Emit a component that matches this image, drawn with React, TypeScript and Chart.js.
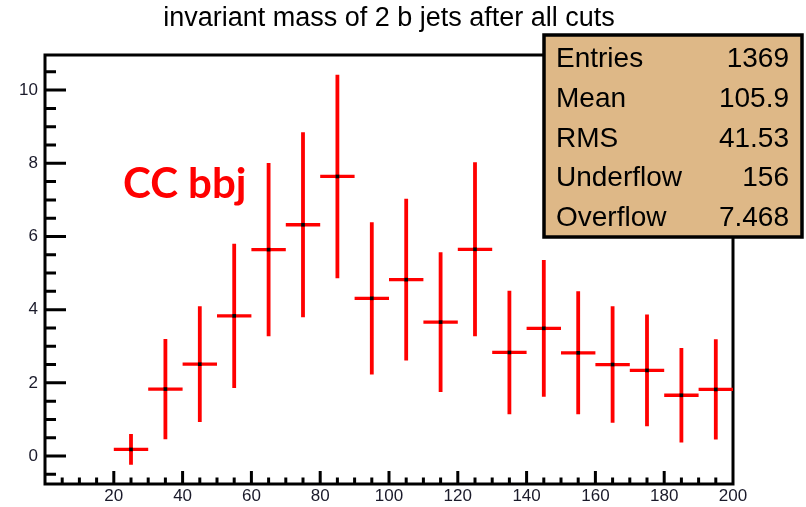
import React, { useEffect, useRef } from 'react';
import { Chart, registerables } from 'chart.js';

Chart.register(...registerables);

// ---- data ----
const binCenters = [25, 35, 45, 55, 65, 75, 85, 95, 105, 115, 125, 135, 145, 155, 165, 175, 185, 195];
const binWidth = 10;
const binContents = [0.18, 1.83, 2.51, 3.83, 5.64, 6.32, 7.64, 4.31, 4.82, 3.66, 5.65, 2.83, 3.49, 2.82, 2.5, 2.34, 1.66, 1.82];
const binErrors = [0.42, 1.37, 1.58, 1.97, 2.37, 2.53, 2.78, 2.08, 2.21, 1.91, 2.38, 1.69, 1.87, 1.68, 1.59, 1.53, 1.29, 1.37];
const xTickValues = [20, 40, 60, 80, 100, 120, 140, 160, 180, 200];
const yTickValues = [0, 2, 4, 6, 8, 10];
const statLabels = ['Entries', 'Mean', 'RMS', 'Underflow', 'Overflow'];
const statValues = ['1369', '105.9', '41.53', '156', '7.468'];
const titleText = 'invariant mass of 2 b jets after all cuts';
const annotationText = 'CC bbj';

const X_MIN = 0;
const X_MAX = 200;
const Y_MIN = -0.765;
const Y_MAX = 10.96;

const FONT = '"Liberation Sans", Arial, Helvetica, sans-serif';

const rootFramePlugin = {
  id: 'rootFrame',
  beforeDatasetsDraw(chart: any) {
    const { ctx, chartArea, scales } = chart;
    const { left, right, top, bottom } = chartArea;
    const xs = scales.x;
    const ys = scales.y;
    ctx.save();
    ctx.strokeStyle = '#000';
    ctx.lineWidth = 3;
    ctx.beginPath();
    for (let k = 0; k <= 40; k++) {
      const v = k * 5;
      const px = xs.getPixelForValue(v);
      if (px <= left + 1 || px >= right - 1) continue;
      const len = k % 4 === 0 ? 13 : 6.5;
      ctx.moveTo(px, bottom);
      ctx.lineTo(px, bottom - len);
    }
    for (let k = -1; k <= 21; k++) {
      const v = k * 0.5;
      const py = ys.getPixelForValue(v);
      if (py <= top + 1 || py >= bottom - 1) continue;
      const len = k % 4 === 0 ? 21 : 11;
      ctx.moveTo(left, py);
      ctx.lineTo(left + len, py);
    }
    ctx.stroke();
    ctx.strokeRect(left, top, right - left, bottom - top);
    ctx.restore();
  },
};

const overlayPlugin = {
  id: 'rootOverlay',
  afterDraw(chart: any) {
    const { ctx } = chart;
    ctx.save();
    // annotation
    ctx.fillStyle = '#ff0000';
    ctx.font = `bold 42px Lato, "Open Sans", sans-serif`;
    ctx.textAlign = 'left';
    ctx.textBaseline = 'alphabetic';
    ctx.fillText(annotationText, 123, 198);

    // stats box
    const bx = 544, by = 35, bw = 258, bh = 202;
    ctx.fillStyle = '#DEB887';
    ctx.fillRect(bx, by, bw, bh);
    ctx.strokeStyle = '#000';
    ctx.lineWidth = 3.5;
    ctx.strokeRect(bx, by, bw, bh);
    ctx.fillStyle = '#000';
    ctx.font = `28px ${FONT}`;
    statLabels.forEach((lab, i) => {
      const base = 67 + i * 39.8;
      ctx.textAlign = 'left';
      ctx.fillText(lab, 556, base);
      ctx.textAlign = 'right';
      ctx.fillText(statValues[i], 789, base);
    });
    ctx.restore();
  },
};

export default function App() {
  const canvasRef = useRef<HTMLCanvasElement | null>(null);

  useEffect(() => {
    if (!canvasRef.current) return;
    const horiz: any[] = [];
    const vert: any[] = [];
    const centers: any[] = [];
    binCenters.forEach((c, i) => {
      const v = binContents[i];
      const e = binErrors[i];
      horiz.push({ x: c - binWidth / 2, y: v }, { x: c + binWidth / 2, y: v }, { x: c + binWidth / 2, y: null });
      vert.push({ x: c, y: v - e }, { x: c, y: v + e }, { x: c, y: null });
      centers.push({ x: c, y: v });
    });

    const chart = new Chart(canvasRef.current, {
      type: 'scatter',
      data: {
        datasets: [
          {
            data: centers,
            showLine: false,
            order: 0,
            pointStyle: 'rect',
            pointRadius: 2.6,
            pointBorderWidth: 0,
            pointBackgroundColor: '#000',
            backgroundColor: '#000',
            borderColor: '#000',
          } as any,
          {
            data: horiz,
            showLine: true,
            order: 1,
            spanGaps: false,
            borderColor: '#ff0000',
            borderWidth: 3.3,
            pointRadius: 0,
            borderCapStyle: 'butt',
          } as any,
          {
            data: vert,
            showLine: true,
            order: 2,
            spanGaps: false,
            borderColor: '#ff0000',
            borderWidth: 3.8,
            pointRadius: 0,
            borderCapStyle: 'butt',
          } as any,
        ],
      },
      options: {
        responsive: false,
        animation: false,
        layout: { padding: { left: 0, right: 73, top: 0, bottom: 0 } },
        plugins: {
          legend: { display: false },
          tooltip: { enabled: false },
          title: {
            display: true,
            text: titleText,
            fullSize: false,
            color: '#000',
            font: { family: FONT, size: 27, weight: 'normal', lineHeight: 1.2 },
            padding: { top: 2.5, bottom: 20.1 },
          },
        },
        scales: {
          x: {
            type: 'linear',
            min: X_MIN,
            max: X_MAX,
            grid: { display: false, drawTicks: false },
            border: { display: false },
            afterBuildTicks: (s: any) => {
              s.ticks = xTickValues.map((v) => ({ value: v }));
            },
            afterFit: (s: any) => {
              s.height = 23;
            },
            ticks: {
              padding: 2,
              maxRotation: 0,
              autoSkip: false,
              color: '#1a1a2a',
              font: { family: FONT, size: 17 },
            },
          },
          y: {
            type: 'linear',
            min: Y_MIN,
            max: Y_MAX,
            grid: { display: false, drawTicks: false },
            border: { display: false },
            afterBuildTicks: (s: any) => {
              s.ticks = yTickValues.map((v) => ({ value: v }));
            },
            afterFit: (s: any) => {
              s.width = 45;
            },
            ticks: {
              padding: 7,
              autoSkip: false,
              color: '#1a1a2a',
              font: { family: FONT, size: 17 },
            },
          },
        },
      } as any,
      plugins: [rootFramePlugin, overlayPlugin],
    });
    return () => chart.destroy();
  }, []);

  return (
    <div style={{ position: 'absolute', left: 0, top: 0, width: 806, height: 507, background: '#fff' }}>
      <canvas ref={canvasRef} width={806} height={507} style={{ display: 'block' }} />
    </div>
  );
}
